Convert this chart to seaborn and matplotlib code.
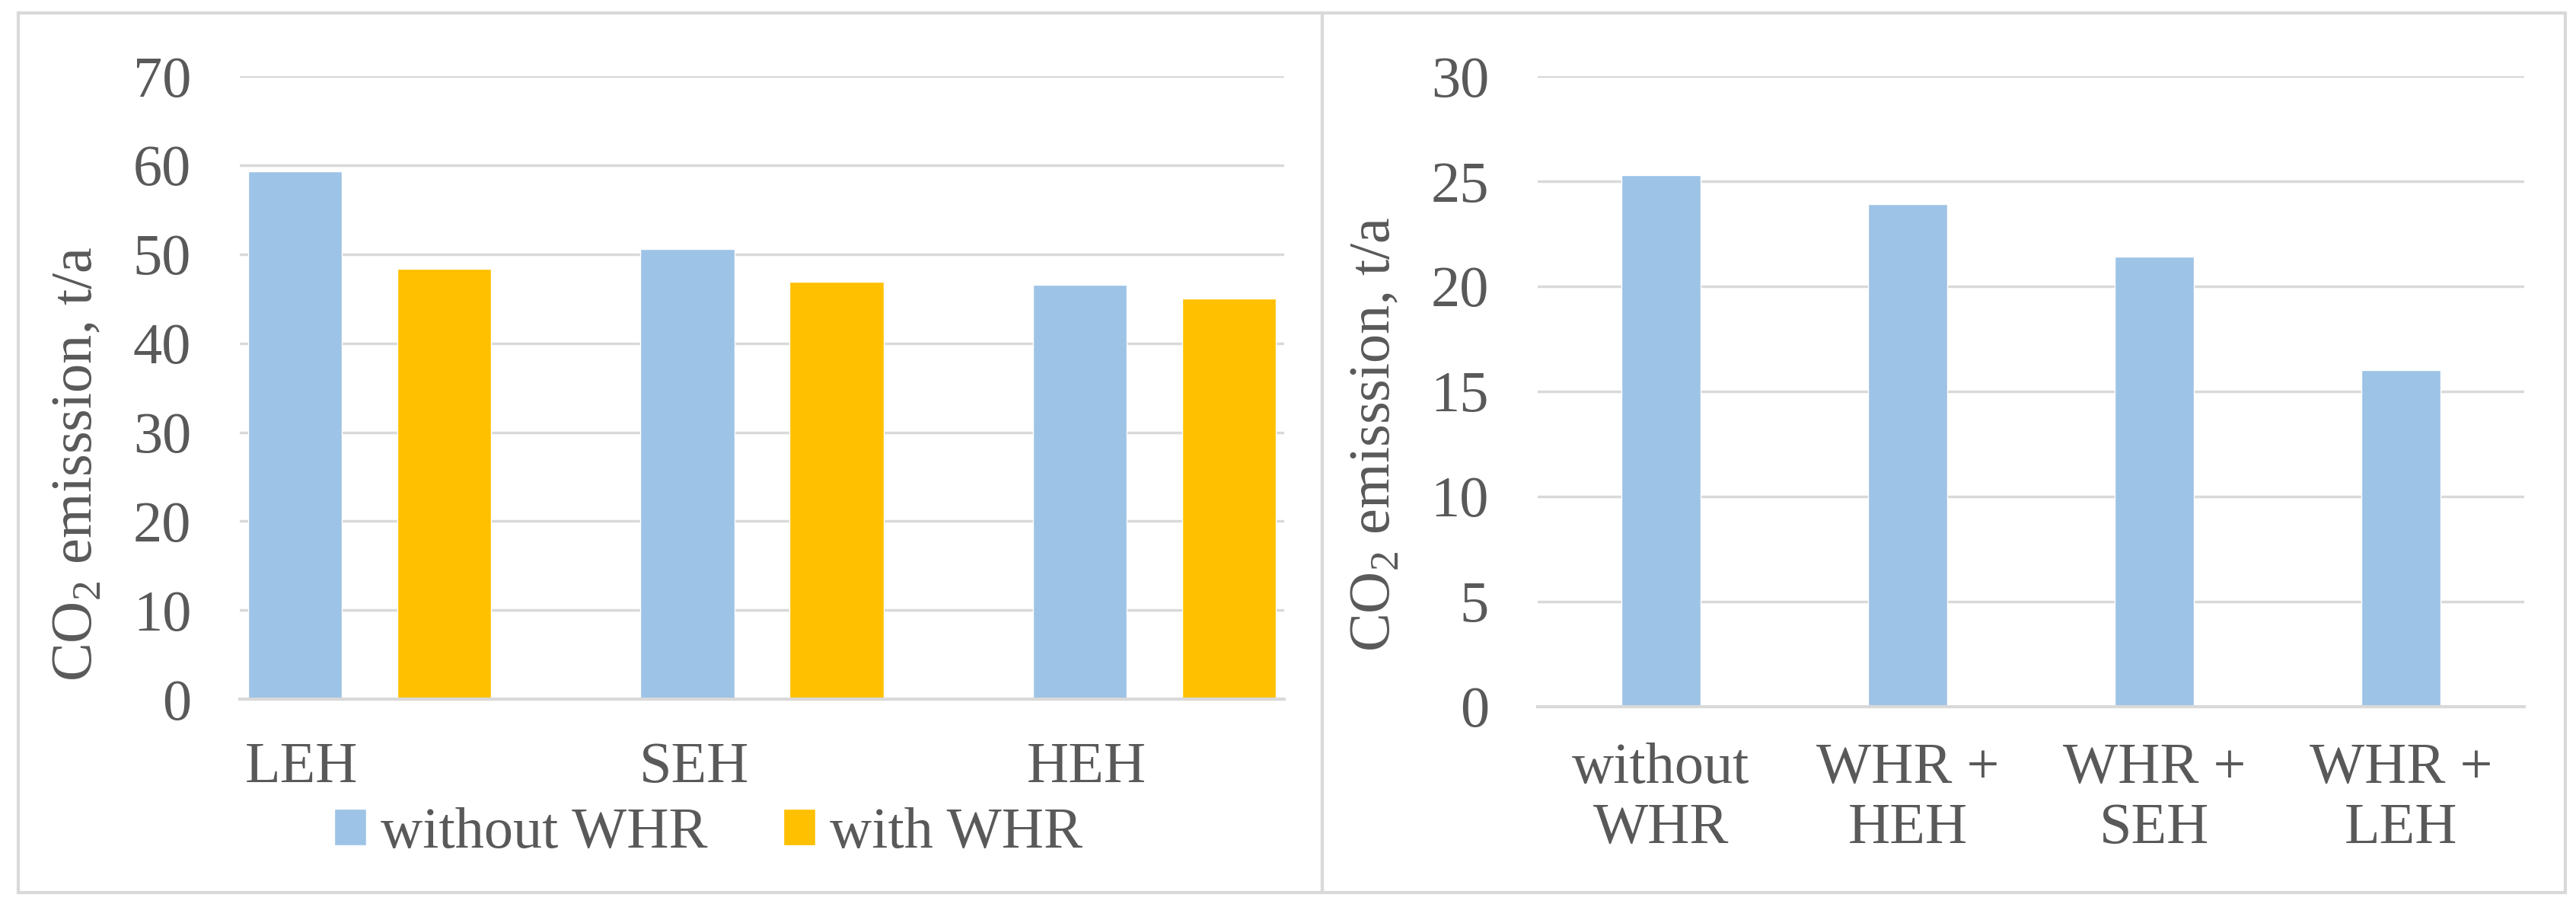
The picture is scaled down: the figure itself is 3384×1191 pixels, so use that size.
import matplotlib
matplotlib.use("Agg")
import matplotlib.pyplot as plt
import matplotlib.transforms as mtransforms
from matplotlib.patches import Rectangle
import pandas as pd
import seaborn as sns

# Data
heaters = ["LEH", "SEH", "HEH"]
without_whr = [59.3, 50.6, 46.6]
with_whr = [48.4, 46.9, 45.0]

scenarios = ["without\nWHR", "WHR +\nHEH", "WHR +\nSEH", "WHR +\nLEH"]
scenario_values = [25.3, 23.9, 21.4, 16.0]

blue = "#9DC3E6"
orange = "#FFC000"
grid_col = "#D9D9D9"
text_col = "#595959"

sns.set_theme(style="white")
plt.rcParams['font.family'] = ['Liberation Serif', 'DejaVu Serif']
plt.rcParams['mathtext.fontset'] = 'custom'
plt.rcParams['mathtext.rm'] = 'Liberation Serif'
plt.rcParams['text.color'] = text_col
plt.rcParams['axes.labelcolor'] = text_col
plt.rcParams['xtick.color'] = text_col
plt.rcParams['ytick.color'] = text_col

fs = 55

df_left = pd.DataFrame({
    "heater": heaters * 2,
    "scenario": ["without WHR"] * 3 + ["with WHR"] * 3,
    "value": without_whr + with_whr,
})
df_right = pd.DataFrame({"scenario": scenarios, "value": scenario_values})

fig = plt.figure(figsize=(33.84, 11.91), dpi=100)
ax1 = fig.add_axes([0.0931, 0.229, 0.4054, 0.687])
ax2 = fig.add_axes([0.5969, 0.221, 0.383, 0.695])

# Left chart
sns.barplot(data=df_left, x="heater", y="value", hue="scenario",
            palette=[blue, orange], width=0.76, gap=0.37, ax=ax1,
            saturation=1)
ax1.set_xlim(-0.33, 2.33)
ax1.set_ylim(0, 70)
ax1.set_yticks(range(0, 71, 10))
handles, labels = ax1.get_legend_handles_labels()
ax1.get_legend().remove()

# Right chart
sns.barplot(data=df_right, x="scenario", y="value", color=blue,
            width=0.32, ax=ax2, saturation=1)
ax2.set_xlim(-0.5, 3.5)
ax2.set_ylim(0, 30)
ax2.set_yticks(range(0, 31, 5))

for ax in (ax1, ax2):
    ax.set_xlabel("")
    ax.set_ylabel("CO$_\\mathregular{2}$ emisssion, t/a", fontsize=fs)
    ax.set_axisbelow(True)
    ax.yaxis.grid(True, color=grid_col, linewidth=2.5)
    for s in ["top", "right", "left"]:
        ax.spines[s].set_visible(False)
    ax.spines["bottom"].set_color(grid_col)
    ax.spines["bottom"].set_linewidth(3)
    ax.tick_params(axis="both", length=0, labelsize=fs)
    ax.tick_params(axis="y", pad=46)
    ax.set_facecolor("none")

ax1.tick_params(axis="x", pad=40)
ax2.tick_params(axis="x", pad=34)
for lbl in ax2.get_xticklabels():
    lbl.set_linespacing(1.18)

# tick labels of the left chart sit a bit left of the bar groups
offset = mtransforms.ScaledTranslation(-0.89, 0, fig.dpi_scale_trans)
for lbl in ax1.get_xticklabels():
    lbl.set_transform(lbl.get_transform() + offset)

ax1.yaxis.set_label_coords(-0.130, 0.378)
ax2.yaxis.set_label_coords(-0.138, 0.432)

fig.legend(handles, labels, loc="center", bbox_to_anchor=(0.275, 0.081),
           ncol=2, frameon=False, fontsize=fs, handlelength=0.55,
           handleheight=0.6, handletextpad=0.25, columnspacing=1.3)

# panel frames
fig.patches.append(Rectangle((24 / 3384, 1 - 1172 / 1191), (1737 - 24) / 3384,
                             (1172 - 17) / 1191, transform=fig.transFigure,
                             fill=False, edgecolor=grid_col, linewidth=3))
fig.patches.append(Rectangle((1737 / 3384, 1 - 1172 / 1191), (3370 - 1737) / 3384,
                             (1172 - 17) / 1191, transform=fig.transFigure,
                             fill=False, edgecolor=grid_col, linewidth=3))

fig.savefig("out.png", dpi=100, facecolor="white")
